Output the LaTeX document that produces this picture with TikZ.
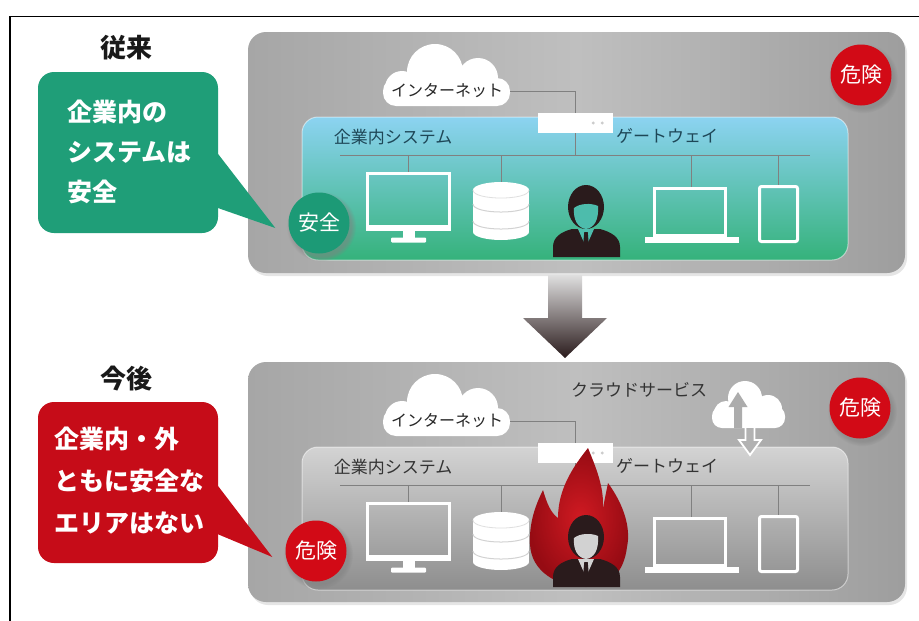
\documentclass[tikz,border=0pt]{standalone}
\usepackage{fontspec}
\setmainfont{Noto Sans CJK JP}
\usetikzlibrary{calc,shadows}

\definecolor{safegreen}{HTML}{1C9A76}
\definecolor{bubblegreen}{HTML}{1F9E78}
\definecolor{dangerred}{HTML}{D20A16}
\definecolor{bubblered}{HTML}{C60C18}
\definecolor{skytop}{HTML}{8CD3F1}
\definecolor{skymid}{HTML}{50BDB2}
\definecolor{skybot}{HTML}{35B27B}
\definecolor{suit}{HTML}{2A1B1C}
\definecolor{flamehi}{HTML}{D01A22}
\definecolor{flamelo}{HTML}{960B13}
\definecolor{tealtext}{HTML}{1E4757}
\definecolor{paneledge}{HTML}{A6A6A6}
\definecolor{panelmid}{HTML}{BFBFBF}
\definecolor{greytop}{HTML}{D3D3D3}
\definecolor{greymid}{HTML}{B4B4B4}
\definecolor{greybot}{HTML}{8E8E8E}

\tikzset{
  every node/.style={inner sep=0pt},
  wire/.style={draw=#1, line width=0.7pt},
  wire/.default={black!55},
  outline/.style={draw=white, line width=3pt},
  headtext/.style={font=\fontsize{26}{30}\selectfont\bfseries, text=black!90},
  saytext/.style={font=\fontsize{25}{40}\selectfont\bfseries, text=white, align=left, anchor=west},
  tag/.style={font=\fontsize{17}{20}\selectfont},
  nettag/.style={font=\fontsize{16}{20}\selectfont, text=black!85, inner xsep=7pt},
  badge/.style={circle, minimum size=61pt, text=white, font=\fontsize{21}{24}\selectfont,
    circular drop shadow={shadow xshift=2pt, shadow yshift=-3pt, shadow scale=1.14, opacity=0.55}},
  panel/.style={rounded corners=18pt, minimum width=657pt,
    left color=paneledge, right color=paneledge!95!black, middle color=panelmid,
    drop shadow={shadow xshift=2pt, shadow yshift=-3pt, opacity=0.2}},
  syspanel/.style={rounded corners=16pt, minimum width=546pt, minimum height=143pt,
    draw=white, draw opacity=0.5, line width=1pt},
  gatebox/.style={fill=white, minimum width=75pt, minimum height=20pt},
}

% network of the company system: cloud, gateway, bus and devices
% #1 name prefix, #2 label colour, #3 wire colour
\newcommand\corpsystem[3]{%
  \fill[white] (435,72) circle (28) (478,78) circle (20) (402,88) circle (17);
  \fill[white, rounded corners=13pt] (383,78) rectangle (510,106);
  \node[nettag] (#1net) at (447,91) {インターネット};
  \coordinate (#1busL) at (340,155);
  \coordinate (#1busR) at (810,155);
  \node[gatebox] (#1gw) at (575.5,123) {};
  \draw[wire=#3] (#1net.east) -| (#1gw.north);
  \draw[wire=#3] (#1gw.south) -- (#1gw.south |- #1busL);
  \draw[wire=#3] (#1busL) -- (#1busR);
  \fill[gray!40] ($(#1gw.east)+(-20,0)$) circle (1.7) ($(#1gw.east)+(-11,0)$) circle (1.7);
  \node[tag, text=#2] (#1sys) at (393,137) {企業内システム};
  \node[tag, text=#2] (#1gwtag) at (667,136) {ゲートウェイ};
  % monitor
  \coordinate (#1mon) at (408.5,172);
  \draw[wire=#3] (#1mon |- #1busL) -- (#1mon);
  \draw[outline] (367.5,173.5) rectangle (449.5,229.5);
  \fill[white] (366,225) rectangle (451,231);
  \fill[white] (402.5,231) rectangle (414.5,238);
  \fill[white, rounded corners=1pt] (391,237.5) rectangle (426,242.5);
  % database
  \coordinate (#1db) at (501,182);
  \draw[wire=#3] (#1db |- #1busL) -- (#1db);
  \fill[white] (501,190) ellipse [x radius=28, y radius=8];
  \fill[white] (473,190) rectangle (529,232);
  \fill[white] (501,232) ellipse [x radius=28, y radius=8];
  \draw[gray!25, line width=0.8pt] (473,190) .. controls (473,200.7) and (529,200.7) .. (529,190);
  \draw[gray!35, line width=1pt] (473,204) .. controls (473,214.7) and (529,214.7) .. (529,204);
  \draw[gray!35, line width=1pt] (473,221) .. controls (473,231.7) and (529,231.7) .. (529,221);
  % laptop
  \coordinate (#1lap) at (691,187);
  \draw[wire=#3] (#1lap |- #1busL) -- (#1lap);
  \draw[outline] (654.5,188.5) rectangle (725.5,235.5);
  \fill[white] (645,237) rectangle (739,243);
  % tablet
  \coordinate (#1tab) at (778.5,185);
  \draw[wire=#3] (#1tab |- #1busL) -- (#1tab);
  \draw[outline, rounded corners=2pt] (759.5,186.5) rectangle (797.5,241.5);
}

% office worker silhouette, #1 face colour
\newcommand\officeworker[1]{%
  \fill[suit] (553,257) -- (553,247) .. controls (553,237) and (561,232) .. (572,229)
    -- (600,229) .. controls (611,232) and (620,237) .. (620,247) -- (620,257) -- cycle;
  \fill[suit] (586,207) ellipse [x radius=18, y radius=22];
  \fill[#1] (574,208) .. controls (580,203) and (592,203) .. (598,206)
    .. controls (599,220) and (594,228) .. (586,229)
    .. controls (578,228) and (573,220) .. (574,208) -- cycle;
  \fill[#1] (578,229) -- (594,229) -- (586,247) -- cycle;
  \fill[suit] (584.3,232) -- (587.7,232) -- (589,246) -- (586,250) -- (583,246) -- cycle;
}

\begin{document}
\begin{tikzpicture}[x=1pt, y=-1pt]
\useasboundingbox (0,0) rectangle (919,621);
\fill[white] (0,0) rectangle (919,621);

% frame
\draw[line width=1.3pt] (10,621) -- (10,16.5) -- (919,16.5);

% ---------- before ----------
\node[headtext] (past) at (126,48) {従来};
\node[panel, minimum height=241pt] (toppanel) at (576.5,152.5) {};
\node[syspanel, top color=skytop, middle color=skymid, bottom color=skybot] (topsys) at (575,188.5) {};
\corpsystem{t}{tealtext}{black!50}
\officeworker{skymid!90!skybot}
\node[badge, fill=dangerred] (tdanger) at (861,75) {危険};
\node[badge, fill=safegreen] (tsafe) at (319,223) {安全};

\fill[bubblegreen, rounded corners=16pt] (38,72) rectangle (218,233);
\fill[bubblegreen] (215,150) -- ($(tsafe.west)+(-13,5)$) -- (215,207) -- cycle;
\node[saytext] (tsay) at (67,152) {企業内の\\システムは\\安全};

% ---------- transition arrow ----------
\shade[top color=gray!25, bottom color=suit]
  (548,275) -- (582,275) -- (582,318) -- (607,318) -- (565,358) -- (523,318) -- (548,318) -- cycle;

% ---------- from now on ----------
\node[headtext] (future) at (126,379) {今後};
\node[panel, minimum height=240pt] (botpanel) at (576.5,482) {};
\node[syspanel, top color=greytop, middle color=greymid, bottom color=greybot] (botsys) at (575,518.5) {};
\begin{scope}[shift={(0,330)}]
  \corpsystem{b}{black!80}{black!50}
  % cloud service with up/down transfer
  \node[tag, text=black!80] (csvc) at (639,60) {クラウドサービス};
  \fill[white] (745,68) circle (17) (726,83) circle (12) (768,79) circle (14);
  \fill[white, rounded corners=10pt] (712,76) rectangle (785,98);
  \fill[gray!65] (738,62) -- (747.5,77) -- (742,77) -- (742,98) -- (734,98) -- (734,77) -- (728.5,77) -- cycle;
  \filldraw[fill=gray!60, draw=white, line width=1.8pt, line join=miter]
    (745.5,97) -- (754.5,97) -- (754.5,110) -- (761,110) -- (750,125) -- (739,110) -- (745.5,110) -- cycle;
  % flame around the worker
  \shade[inner color=flamehi, outer color=flamelo]
    (588,118) .. controls (597,140) and (606,162) .. (602,184)
    .. controls (604,172) and (606,163) .. (608,153)
    .. controls (624,175) and (631,198) .. (627,217)
    .. controls (624,242) and (610,257) .. (586,257)
    .. controls (558,257) and (531,242) .. (530,214)
    .. controls (529,192) and (536,174) .. (543,160)
    .. controls (547,174) and (551,183) .. (558,188)
    .. controls (558,160) and (572,138) .. (588,118) -- cycle;
  \officeworker{gray!35}
\end{scope}
\node[badge, fill=dangerred] (bdanger) at (860,408) {危険};
\node[badge, fill=dangerred] (bleft) at (316,551) {危険};

\fill[bubblered, rounded corners=16pt] (38,402) rectangle (218,563);
\fill[bubblered] (215,482) -- ($(bleft.west)+(-13,6)$) -- (215,533) -- cycle;
\node[saytext, font=\fontsize{25}{42}\selectfont\bfseries] (bsay) at (54,481) {企業内・外\\ともに安全な\\エリアはない};

\end{tikzpicture}
\end{document}
